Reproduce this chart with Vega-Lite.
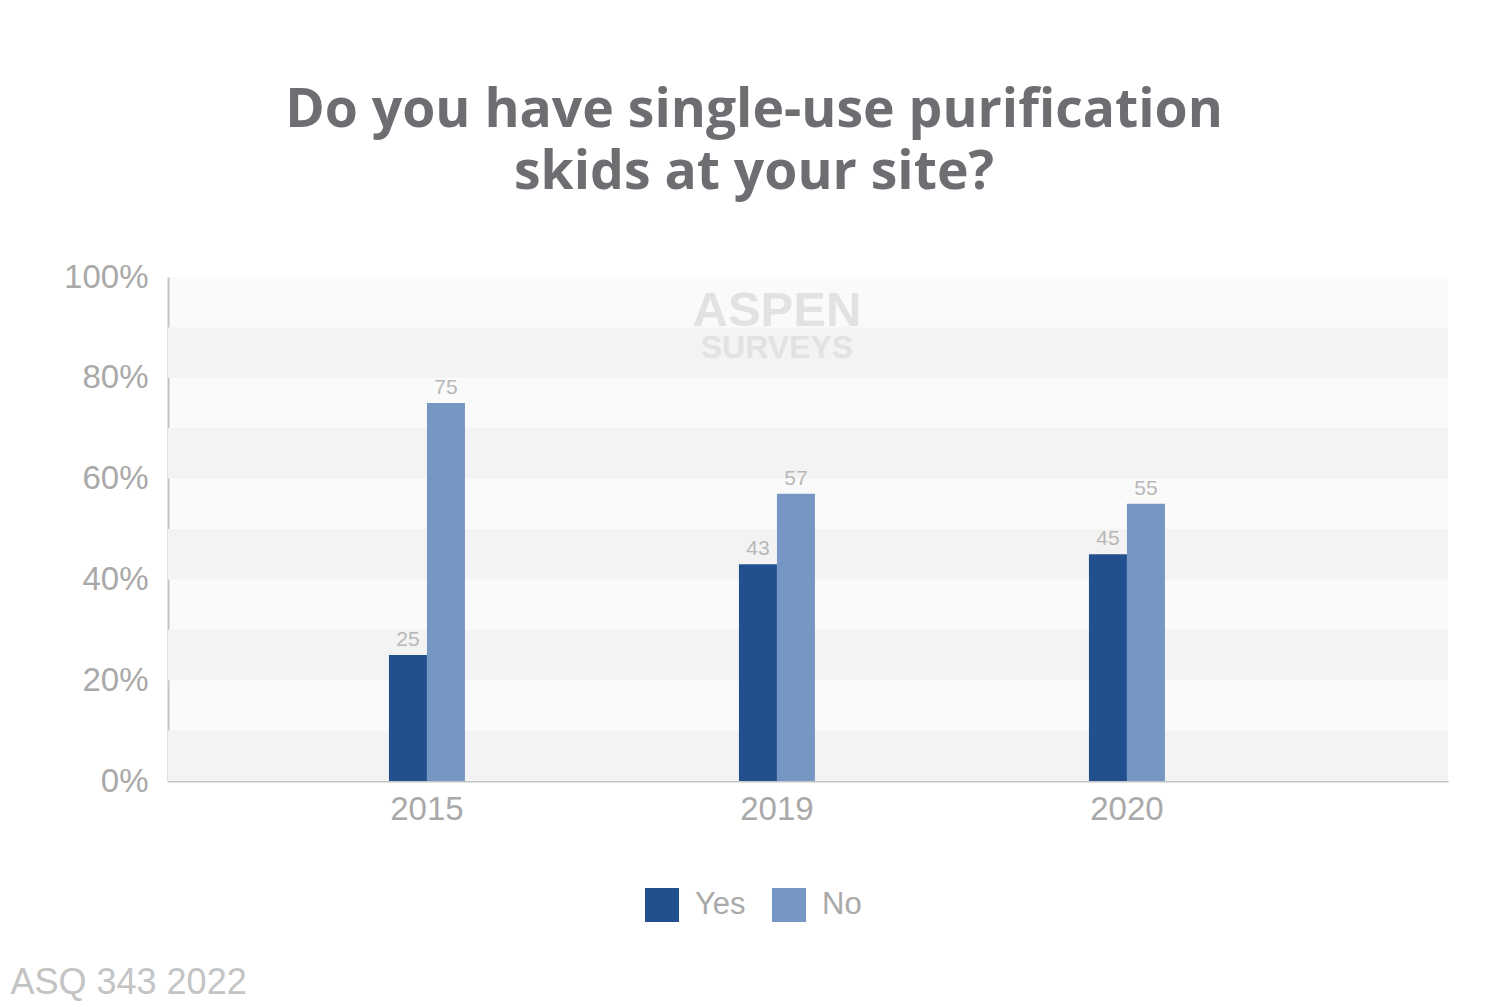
{
  "$schema": "https://vega.github.io/schema/vega-lite/v6.json",
  "width": 1280,
  "height": 504,
  "autosize": {"type": "none"},
  "padding": {"left": 168, "top": 277, "right": 60, "bottom": 226},
  "background": "white",
  "config": {
    "view": {"stroke": null, "fill": "#fafafa"},
    "font": "Liberation Sans"
  },
  "title": {
    "text": ["Do you have single-use purification", "skids at your site?"],
    "font": "Open Sans",
    "fontSize": 53.5,
    "fontWeight": "bold",
    "color": "#6d6e71",
    "anchor": "middle",
    "dx": -54,
    "lineHeight": 62,
    "offset": 61
  },
  "layer": [
    {
      "data": {"values": [
        {"lo": 0, "hi": 10},
        {"lo": 20, "hi": 30},
        {"lo": 40, "hi": 50},
        {"lo": 60, "hi": 70},
        {"lo": 80, "hi": 90}
      ]},
      "mark": {"type": "rect", "color": "#f3f3f3"},
      "encoding": {
        "y": {"field": "lo", "type": "quantitative"},
        "y2": {"field": "hi"}
      }
    },
    {
      "data": {"values": [{"year": "2019", "v": 90.2, "t": "ASPEN"}]},
      "mark": {"type": "text", "fontSize": 49, "fontWeight": "bold", "color": "#e2e2e2", "baseline": "alphabetic", "font": "Liberation Sans"},
      "encoding": {
        "x": {"field": "year", "type": "nominal"},
        "y": {"field": "v", "type": "quantitative"},
        "text": {"field": "t"}
      }
    },
    {
      "data": {"values": [{"year": "2019", "v": 84.0, "t": "SURVEYS"}]},
      "mark": {"type": "text", "fontSize": 32, "fontWeight": "bold", "color": "#e2e2e2", "baseline": "alphabetic", "font": "Liberation Sans"},
      "encoding": {
        "x": {"field": "year", "type": "nominal"},
        "y": {"field": "v", "type": "quantitative"},
        "text": {"field": "t"}
      }
    },
    {
      "data": {"values": [
        {"year": "2015", "answer": "Yes", "value": 25},
        {"year": "2015", "answer": "No", "value": 75},
        {"year": "2019", "answer": "Yes", "value": 43},
        {"year": "2019", "answer": "No", "value": 57},
        {"year": "2020", "answer": "Yes", "value": 45},
        {"year": "2020", "answer": "No", "value": 55}
      ]},
      "encoding": {
        "x": {
          "field": "year",
          "type": "nominal",
          "scale": {"domain": ["2015", "2019", "2020"], "paddingInner": 0, "paddingOuter": 0.3286, "align": 0.365},
          "axis": {
            "labelAngle": 0,
            "labelAlign": "center",
            "labelBaseline": "top",
            "labelFontSize": 33,
            "labelColor": "#a9a9a9",
            "labelPadding": 12,
            "ticks": false,
            "domainColor": "#c4c4c4",
            "domainWidth": 2,
            "title": "ASQ 343 2022",
            "titleFontSize": 36,
            "titleFontWeight": "normal",
            "titleColor": "#c4c4c4",
            "titleAlign": "left",
            "titleAnchor": "start",
            "titleBaseline": "alphabetic",
            "titleX": -158,
            "titleY": 212
          }
        },
        "xOffset": {
          "field": "answer",
          "type": "nominal",
          "scale": {"domain": ["Yes", "No"], "paddingInner": 0, "paddingOuter": 0, "range": [137, 213]}
        },
        "y": {
          "field": "value",
          "type": "quantitative",
          "scale": {"domain": [0, 100]},
          "axis": {
            "values": [0, 20, 40, 60, 80, 100],
            "labelExpr": "datum.value + '%'",
            "labelFontSize": 33,
            "labelColor": "#a9a9a9",
            "labelPadding": 20,
            "ticks": false,
            "grid": false,
            "domainColor": "#c4c4c4",
            "domainWidth": 2,
            "title": null
          }
        }
      },
      "layer": [
        {
          "mark": {"type": "bar"},
          "encoding": {
            "color": {
              "field": "answer",
              "type": "nominal",
              "scale": {"domain": ["Yes", "No"], "range": ["#22508f", "#7697c3"]},
              "legend": {
                "orient": "none",
                "legendX": 477,
                "legendY": 611,
                "direction": "horizontal",
                "title": null,
                "symbolType": "square",
                "symbolSize": 1156,
                "symbolStrokeWidth": 0,
                "labelFontSize": 31,
                "labelColor": "#a9a9a9",
                "labelOffset": 16,
                "columnPadding": 26
              }
            }
          }
        },
        {
          "mark": {"type": "text", "dy": -5, "baseline": "bottom", "fontSize": 21, "color": "#b8b8b8"},
          "encoding": {"text": {"field": "value", "type": "quantitative"}}
        }
      ]
    }
  ]
}
